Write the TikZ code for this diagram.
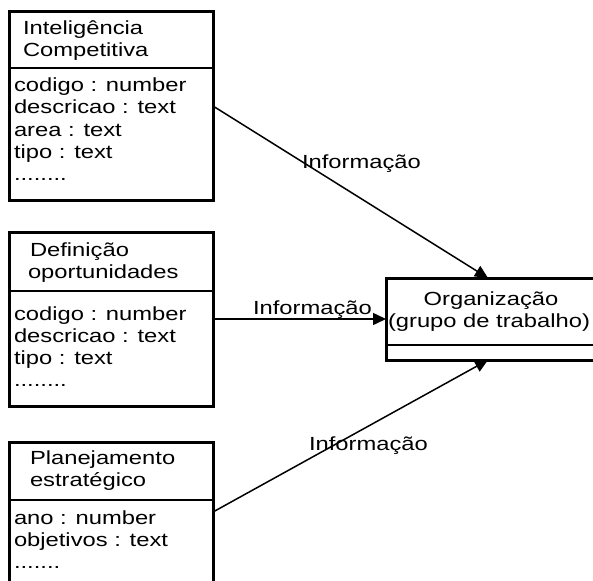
\documentclass[tikz,border=0pt]{standalone}
\usepackage{fontspec}
\setmainfont{Liberation Sans}[FakeStretch=1.25]
\usetikzlibrary{arrows.meta}

% placeholder rows for further attributes
\newcommand\attrdots{........}
\newcommand\attrdotsshort{.......}

\tikzset{
  classbox/.style={draw=black, line width=3pt, inner sep=0pt, outer sep=0pt,
                   anchor=north west},
  divider/.style={line width=2pt},
  txt/.style={inner sep=0pt, outer sep=0pt, anchor=base west,
              font=\fontsize{19pt}{22pt}\selectfont},
  flow/.style={line width=1.5pt, -{Triangle[length=13pt,width=12pt]}},
}

\begin{document}
\begin{tikzpicture}[x=1pt,y=-1pt]
  \useasboundingbox (0,0) rectangle (593,580);

  % class boxes
  \node[classbox, minimum width=204pt, minimum height=188pt] (ic) at (9,12) {};
  \node[classbox, minimum width=204pt, minimum height=174pt] (def) at (9,232) {};
  \node[classbox, minimum width=204pt, minimum height=140pt] (plan) at (9,442) {};
  \node[classbox, minimum width=210pt, minimum height=82pt] (org) at (386,278) {};

  % compartment separators
  \draw[divider] (ic.west |- 0,68) -- (ic.east |- 0,68);
  \draw[divider] (def.west |- 0,291) -- (def.east |- 0,291);
  \draw[divider] (plan.west |- 0,500) -- (plan.east |- 0,500);
  \draw[divider] (org.west |- 0,345) -- (org.east |- 0,345);

  % Inteligencia Competitiva
  \node[txt] (ic-h1) at (23,35) {Inteligência};
  \node[txt] (ic-h2) at (23,57) {Competitiva};
  \foreach \t [count=\i] in {codigo : number, descricao : text, area : text, tipo : text, \attrdots}
    \node[txt] (ic-a\i) at (14,{92+22*(\i-1)}) {\t};

  % Definicao oportunidades
  \node[txt] (def-h1) at (30,256) {Definição};
  \node[txt] (def-h2) at (28,278) {oportunidades};
  \foreach \t [count=\i] in {codigo : number, descricao : text, tipo : text, \attrdots}
    \node[txt] (def-a\i) at (14,{320+22*(\i-1)}) {\t};

  % Planejamento estrategico
  \node[txt] (plan-h1) at (30,464) {Planejamento};
  \node[txt] (plan-h2) at (30,486) {estratégico};
  \foreach \t [count=\i] in {ano : number, objetivos : text, \attrdotsshort}
    \node[txt] (plan-a\i) at (14,{524+22*(\i-1)}) {\t};

  % Organizacao
  \node[txt, anchor=base] (org-h1) at (491,305) {Organização};
  \node[txt, anchor=base] (org-h2) at (489,327) {(grupo de trabalho)};

  % information flows
  \draw[flow] (ic.east) -- ([xshift=-3pt]org.north);
  \draw[flow] (def.east) -- (org.west);
  \draw[flow] (plan.east) -- ([xshift=-3pt]org.south);

  \node[txt] (lbl-ic) at (302,168) {Informação};
  \node[txt] (lbl-def) at (253,314) {Informação};
  \node[txt] (lbl-plan) at (309,450) {Informação};
\end{tikzpicture}
\end{document}
